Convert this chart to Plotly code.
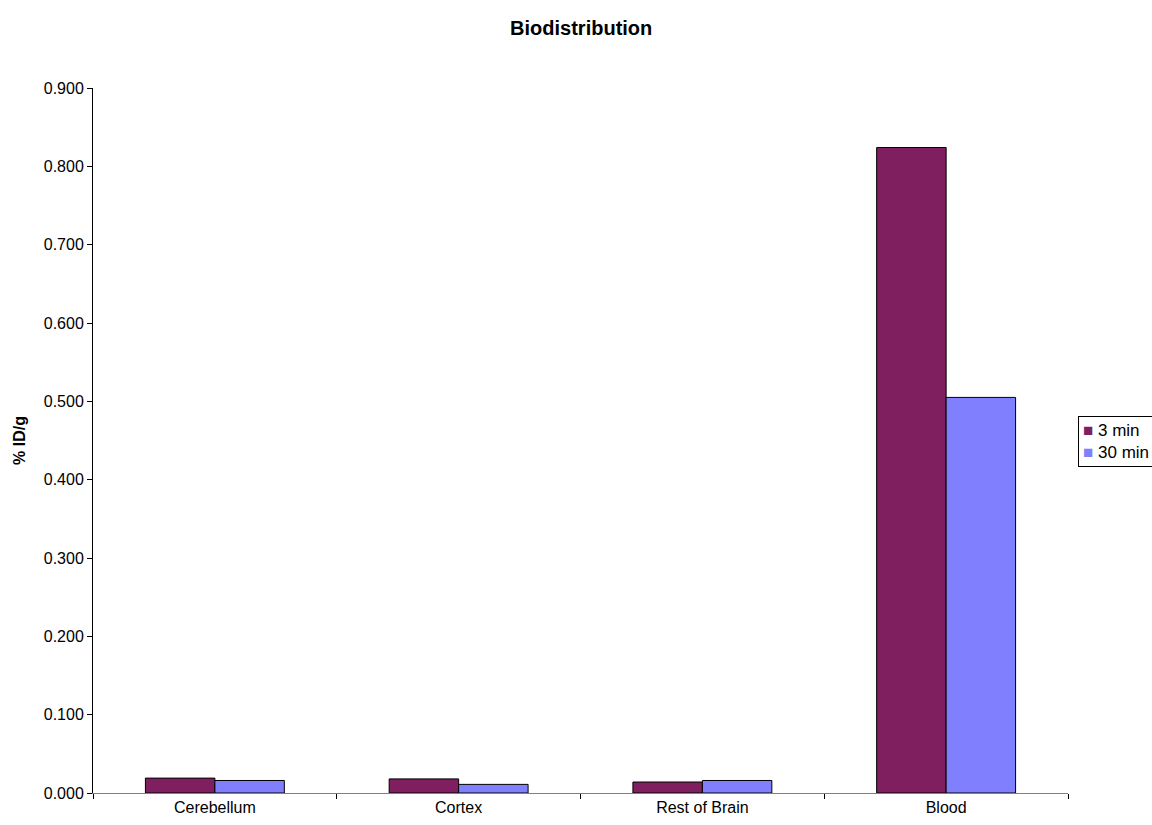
import plotly.graph_objects as go

categories = ["Cerebellum", "Cortex", "Rest of Brain", "Blood"]
series_names = ["3 min", "30 min"]
values_3min = [0.019, 0.018, 0.014, 0.824]
values_30min = [0.016, 0.011, 0.016, 0.505]
colors = ["#7F1F5F", "#8080FF"]
y_ticks = [0.0, 0.1, 0.2, 0.3, 0.4, 0.5, 0.6, 0.7, 0.8, 0.9]

FONT = "Liberation Sans, Arial, sans-serif"

fig = go.Figure()
for name, vals, col in zip(series_names, [values_3min, values_30min], colors):
    fig.add_trace(go.Bar(
        x=categories, y=vals, name=name,
        marker=dict(color=col, line=dict(color="#000000", width=1)),
        showlegend=False,
    ))

# compact legend box (clipped at the right edge like the reference)
legend_text = "<br>".join(
    f'<span style="color:{c}">■</span> {n}' for n, c in zip(series_names, colors)
)
fig.add_annotation(
    text=legend_text, xref="paper", yref="paper",
    x=(1078 - 93) / 975, xanchor="left", y=0.499, yanchor="middle",
    showarrow=False, align="left",
    bordercolor="black", borderwidth=1, borderpad=4, bgcolor="white",
    font=dict(size=17, family=FONT, color="black"),
)

fig.update_layout(
    width=1152, height=825,
    margin=dict(l=93, r=84, t=88, b=32, autoexpand=False),
    paper_bgcolor="white", plot_bgcolor="white",
    barmode="group", bargap=0.43, bargroupgap=0,
    font=dict(family=FONT, size=16, color="black"),
    title=dict(text="<b>Biodistribution</b>", x=0.5045, xanchor="center",
               y=1 - 28 / 825, yanchor="middle", font=dict(size=20)),
    showlegend=False,
)
fig.update_yaxes(
    range=[0, 0.9], tickvals=y_ticks, tickformat=".3f",
    showgrid=False, zeroline=False,
    showline=True, linecolor="black", linewidth=1,
    ticks="outside", ticklen=5, tickcolor="black",
    tickfont=dict(size=16),
    title=dict(text="<b>% ID/g</b>", standoff=14, font=dict(size=16)),
)
fig.update_xaxes(
    showgrid=False, showline=True, linecolor="#808080", linewidth=1,
    ticks="outside", tickson="boundaries", ticklen=5, tickcolor="black",
    tickfont=dict(size=16),
)

fig.write_html("out.html")
